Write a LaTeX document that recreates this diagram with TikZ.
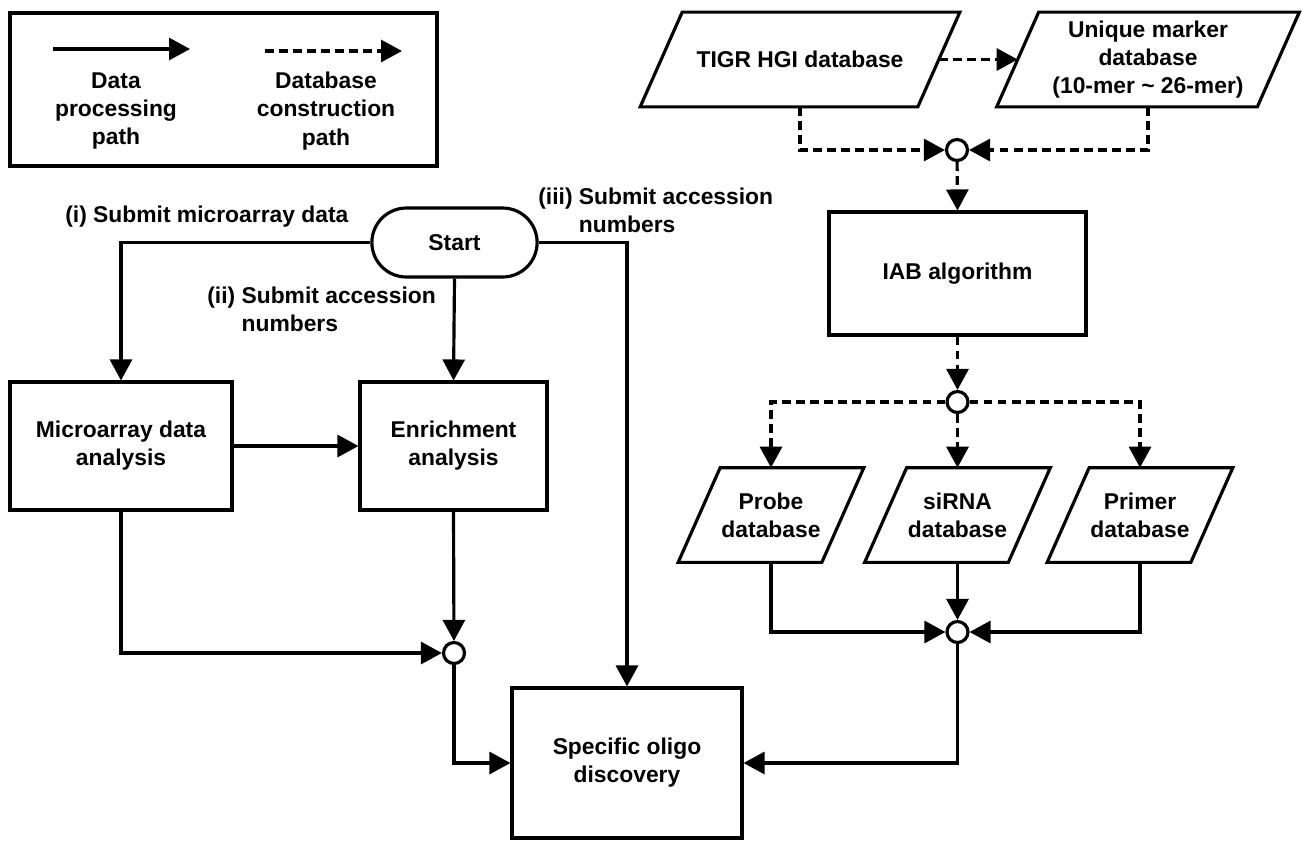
\documentclass[tikz,border=0pt]{standalone}
\usepackage{fontspec}
\setmainfont{Liberation Sans}
\usetikzlibrary{arrows.meta,shapes.misc}
\tikzset{
  every node/.style={font=\bfseries\fontsize{13}{16}\selectfont},
  box/.style={draw, line width=1.8pt, rectangle, align=center, inner sep=0pt},
  dbase/.style={rectangle, align=center, inner sep=0pt, minimum width=#1,
    minimum height=1.88cm,
    append after command={\pgfextra{\draw[line width=1.8pt, line join=miter]
      ([xshift=-0.42cm]\tikzlastnode.south west) -- ([xshift=0.42cm]\tikzlastnode.north west)
      -- ([xshift=0.42cm]\tikzlastnode.north east) -- ([xshift=-0.42cm]\tikzlastnode.south east)
      -- cycle;}}},
  junc/.style={draw, line width=1.8pt, circle, minimum size=0.42cm, inner sep=0pt, fill=white},
  flow/.style={line width=1.8pt, -{Triangle[length=0.42cm,width=0.44cm]}},
  dflow/.style={flow, dash pattern=on 5pt off 3pt},
  lbl/.style={align=left, anchor=west, inner sep=0pt}
}
\begin{document}
\begin{tikzpicture}[x=0.02cm,y=-0.02cm]
\useasboundingbox (0,0) rectangle (1302,840);
% legend
\draw[line width=1.8pt] (10,13) rectangle (437,166);
\coordinate (ls1) at (53,49); \coordinate (ls2) at (190,49);
\coordinate (ld1) at (265,51); \coordinate (ld2) at (402,51);
\draw[flow] (ls1) -- (ls2);
\draw[dflow] (ld1) -- (ld2);
\node[align=center] (ltxt1) at (116,111) {Data\\processing\\path};
\node[align=center] (ltxt2) at (326,111) {Database\\construction\\path};

% data processing side
\node[rounded rectangle, draw, line width=1.8pt, minimum width=3.54cm, minimum height=1.38cm] (start) at (454.5,242.5) {Start};
\node[box, minimum width=4.44cm, minimum height=2.56cm] (micro) at (121,446) {Microarray data\\analysis};
\node[box, minimum width=3.74cm, minimum height=2.56cm] (enrich) at (453.5,446) {Enrichment\\analysis};
\node[box, minimum width=4.6cm, minimum height=3cm] (spec) at (627,763) {Specific oligo\\discovery};
\node[junc] (jl) at (454,653) {};
\node[lbl] (lab1) at (65,217) {(i) Submit microarray data};
\node[lbl] (lab2) at (207,311.5) {(ii) Submit accession\\\phantom{(ii) }numbers};
\node[lbl] (lab3) at (538,212.5) {(iii) Submit accession\\\phantom{(iii) }numbers};

\draw[flow] (start.west) -| (micro.north);
\draw[flow] (start.south) -- (enrich.north);
\draw[flow] (start.east) -| (spec.north);
\draw[flow] (micro.east) -- (enrich.west);
\draw[flow] (enrich.south) -- (jl);
\draw[flow] (micro.south) |- (jl);
\draw[flow] (jl) |- (spec.west);

% database side
\node[dbase=5.54cm] (tigr) at (800,59.5) {TIGR HGI database};
\node[dbase=5.2cm] (uniq) at (1148,59.5) {Unique marker\\database\\(10-mer \textasciitilde{} 26-mer)};
\node[junc] (jt) at (957,150) {};
\node[box, minimum width=5.14cm, minimum height=2.46cm] (iab) at (957.5,273.5) {IAB algorithm};
\node[junc] (jm) at (957.5,402) {};
\node[dbase=2.86cm] (probe) at (771,515) {Probe\\database};
\node[dbase=2.86cm] (sirna) at (957.5,515) {siRNA\\database};
\node[dbase=2.86cm] (primer) at (1140,515) {Primer\\database};
\node[junc] (jb) at (957.5,632) {};

\draw[dflow] (tigr.east) -- (uniq.west);
\draw[dflow] (tigr.south) |- (jt);
\draw[dflow] (uniq.south) |- (jt);
\draw[dflow] (jt) -- (iab.north);
\draw[dflow] (iab.south) -- (jm);
\draw[dflow] (jm) -| (probe.north);
\draw[dflow] (jm) -- (sirna.north);
\draw[dflow] (jm) -| (primer.north);
\draw[flow] (probe.south) |- (jb);
\draw[flow] (sirna.south) -- (jb);
\draw[flow] (primer.south) |- (jb);
\draw[flow] (jb) |- (spec.east);
\end{tikzpicture}
\end{document}
